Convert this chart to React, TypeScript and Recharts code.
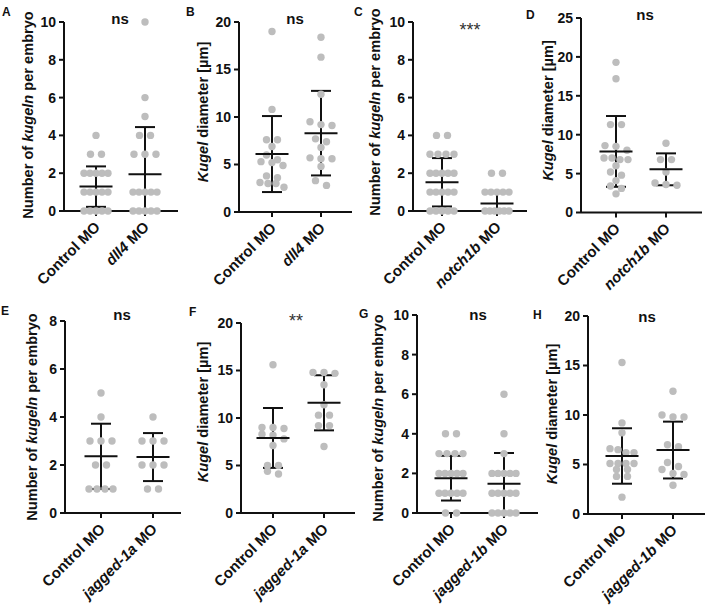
import React from 'react';
import { ScatterChart, Scatter, XAxis, YAxis, ErrorBar } from 'recharts';

const FONT = '"Liberation Sans", Arial, Helvetica, sans-serif';
const DOT = '#bdbdbd';
const INK = '#111';

// ---- data ----
const groupsA = ['Control MO', 'dll4 MO'];
const kugelnCtrlA = [4, 3, 3, 2, 2, 2, 2, 2, 1, 1, 1, 1, 1, 0, 0, 0, 0, 0];
const kugelnDll4A = [10, 6, 5, 4, 4, 3, 3, 3, 1, 1, 1, 1, 1, 0, 0, 0, 0, 0];
const meansA = [1.29, 1.94];
const sdsA = [1.07, 2.5];

const groupsB = ['Control MO', 'dll4 MO'];
const diamCtrlB = [19.0, 10.8, 7.6, 7.6, 6.9, 6.0, 5.5, 5.3, 5.2, 4.9, 3.8, 3.6, 3.1, 3.0, 3.0, 2.6];
const diamDll4B = [18.4, 16.3, 12.4, 9.5, 9.2, 9.1, 7.7, 7.4, 6.8, 5.7, 5.6, 5.6, 4.8, 3.3, 2.8];
const meansB = [6.1, 8.3];
const sdsB = [4.0, 4.45];

const groupsC = ['Control MO', 'notch1b MO'];
const kugelnCtrlC = [4, 4, 3, 3, 3, 3, 2, 2, 2, 2, 2, 1, 1, 1, 1, 1, 0, 0, 0, 0, 0];
const kugelnNotchC = [2, 2, 1, 1, 1, 1, 1, 0, 0, 0, 0, 0, 0];
const meansC = [1.52, 0.4];
const sdsC = [1.28, 0.64];

const groupsD = ['Control MO', 'notch1b MO'];
const diamCtrlD = [19.3, 17.2, 11.3, 11.3, 8.6, 8.5, 8.0, 7.0, 7.0, 6.8, 6.8, 6.0, 5.2, 4.8, 4.1, 3.4, 3.1, 2.4];
const diamNotchD = [8.9, 6.8, 6.8, 5.2, 3.8, 3.6, 3.5];
const meansD = [7.85, 5.55];
const sdsD = [4.55, 2.05];

const groupsE = ['Control MO', 'jagged-1a MO'];
const kugelnCtrlE = [5, 4, 3, 3, 3, 2, 2, 1, 1, 1, 1];
const kugelnJagE = [4, 3, 3, 3, 2, 2, 2, 1, 1];
const meansE = [2.36, 2.33];
const sdsE = [1.36, 1.0];

const groupsF = ['Control MO', 'jagged-1a MO'];
const diamCtrlF = [15.6, 9.0, 8.9, 9.0, 8.3, 8.2, 7.8, 7.1, 5.0, 5.0, 4.4, 4.1];
const diamJagF = [14.8, 14.7, 14.8, 13.5, 11.4, 10.3, 10.3, 9.2, 9.2, 7.0];
const meansF = [7.9, 11.6];
const sdsF = [3.15, 2.9];

const groupsG = ['Control MO', 'jagged-1b MO'];
const kugelnCtrlG = [4, 4, 3, 3, 3, 3, 2, 2, 2, 2, 2, 1, 1, 1, 1, 1, 0, 0];
const kugelnJagG = [6, 4, 3, 2, 2, 2, 2, 2, 1, 1, 1, 1, 1, 0, 0, 0, 0, 0];
const meansG = [1.76, 1.48];
const sdsG = [1.13, 1.55];

const groupsH = ['Control MO', 'jagged-1b MO'];
const diamCtrlH = [15.3, 9.2, 8.2, 6.6, 6.5, 6.2, 6.2, 5.1, 5.1, 5.1, 5.1, 4.5, 4.5, 3.8, 3.8, 1.7];
const diamJagH = [12.4, 10.0, 9.8, 9.8, 7.0, 6.8, 5.2, 4.8, 4.5, 4.1, 4.0, 2.9];
const meansH = [5.86, 6.46];
const sdsH = [2.8, 2.87];

const ticks10 = [0, 2, 4, 6, 8, 10];
const ticks8 = [0, 2, 4, 6, 8];
const ticks20 = [0, 5, 10, 15, 20];
const ticks25 = [0, 5, 10, 15, 20, 25];

type Part = { t: string; i?: boolean };
const titleCount: Part[] = [{ t: 'Number of ' }, { t: 'kugeln', i: true }, { t: ' per embryo' }];
const titleDiam: Part[] = [{ t: 'Kugel', i: true }, { t: ' diameter [µm]' }];

// page geometry of each panel (pixels)
type Box = {
  axisX: number; top: number; zero: number; right: number; cats: number[];
  title: number[]; letter: number[]; sig: number[];
};

type PanelDef = {
  letter: string; sig: string; groups: string[]; values: number[][];
  means: number[]; sds: number[]; yMax: number; yTicks: number[]; title: Part[]; box: Box;
};

function splitName(name: string): Part[] {
  if (name.startsWith('Control')) return [{ t: name }];
  const k = name.lastIndexOf(' ');
  return [{ t: name.slice(0, k), i: true }, { t: name.slice(k) }];
}

// symmetric beeswarm: values that sit within a dot of each other share a row
function swarm(values: number[], group: number, pxPerUnit: number, catPx: number) {
  const sorted = [...values].sort((a, b) => b - a);
  const rows: number[][] = [];
  sorted.forEach((v) => {
    const last = rows[rows.length - 1];
    if (last && Math.abs(last[0] - v) * pxPerUnit < 5) last.push(v);
    else rows.push([v]);
  });
  const pts: { x: number; y: number }[] = [];
  rows.forEach((row) => {
    const k = row.length;
    const step = k > 1 ? Math.min(11, 24 / (k - 1)) : 0;
    row.forEach((v, i) => pts.push({ x: group + ((i - (k - 1) / 2) * step) / catPx, y: v }));
  });
  return pts;
}

const XTick = (props: any) => {
  const { x, y, payload, groups } = props;
  const name = groups[payload.value] ?? '';
  const tx = x + 5;
  const ty = y + 10;
  return (
    <text x={tx} y={ty} transform={`rotate(-45, ${tx}, ${ty})`} textAnchor="end"
      fontFamily={FONT} fontSize={15} fontWeight="bold" fill={INK}>
      {splitName(name).map((p, i) => (
        <tspan key={i} fontStyle={p.i ? 'italic' : 'normal'}>{p.t}</tspan>
      ))}
    </text>
  );
};

function Panel({ def }: { def: PanelDef }) {
  const b = def.box;
  const left = b.axisX - 64;
  const topPad = 24;
  const chartTop = b.top - topPad;
  const xAxisH = 95;
  const width = b.right - left + 4;
  const height = b.zero - chartTop + xAxisH;
  const unit = b.cats[1] - b.cats[0];
  const domain = [(b.axisX - b.cats[0]) / unit, (b.right - b.cats[0]) / unit];
  const ppu = (b.zero - b.top) / def.yMax;

  const pts0 = swarm(def.values[0], 0, ppu, unit);
  const pts1 = swarm(def.values[1], 1, ppu, unit);
  const stats = def.means.map((m, i) => ({ x: i, y: m, err: [Math.min(def.sds[i], m), def.sds[i]] }));

  const rx = (px: number) => px - left;
  const ry = (py: number) => py - chartTop;
  const tx = rx(b.title[0]);
  const ty = ry(b.title[1]);
  const isNs = def.sig === 'ns';

  return (
    <div style={{ position: 'absolute', left, top: chartTop, width, height }}>
      <ScatterChart width={width} height={height} margin={{ top: topPad, right: 4, bottom: 0, left: 0 }}>
        <XAxis dataKey="x" type="number" domain={domain} ticks={[0, 1]} height={xAxisH}
          tickSize={5} axisLine={{ stroke: INK, strokeWidth: 2 }} tickLine={{ stroke: INK, strokeWidth: 2 }}
          tick={<XTick groups={def.groups} />} interval={0} />
        <YAxis dataKey="y" type="number" domain={[0, def.yMax]} ticks={def.yTicks} width={64}
          tickSize={5} tickMargin={3} interval={0}
          axisLine={{ stroke: INK, strokeWidth: 2 }} tickLine={{ stroke: INK, strokeWidth: 2 }}
          tick={{ fontSize: 14, fontWeight: 'bold', fill: INK, fontFamily: FONT }} />
        <Scatter data={pts0} isAnimationActive={false}
          shape={(p: any) => <circle cx={p.cx} cy={p.cy} r={3.7} fill={DOT} />} />
        <Scatter data={pts1} isAnimationActive={false}
          shape={(p: any) => <circle cx={p.cx} cy={p.cy} r={3.7} fill={DOT} />} />
        <Scatter data={stats} isAnimationActive={false}
          shape={(p: any) => <line x1={p.cx - 16.5} x2={p.cx + 16.5} y1={p.cy} y2={p.cy} stroke={INK} strokeWidth={2} />}>
          <ErrorBar dataKey="err" direction="y" width={10} stroke={INK} strokeWidth={2} />
        </Scatter>
        <text x={tx} y={ty} transform={`rotate(-90, ${tx}, ${ty})`} textAnchor="middle" dominantBaseline="central"
          fontFamily={FONT} fontSize={14.6} fontWeight="bold" fill={INK}>
          {def.title.map((p, i) => (
            <tspan key={i} fontStyle={p.i ? 'italic' : 'normal'}>{p.t}</tspan>
          ))}
        </text>
        <text x={rx(b.letter[0])} y={ry(b.letter[1])} fontFamily={FONT} fontSize={12} fontWeight="bold" fill={INK}>
          {def.letter}
        </text>
        <text x={rx(b.sig[0])} y={ry(b.sig[1])} textAnchor="middle" fontFamily={FONT}
          fontSize={isNs ? 15 : 18} fontWeight={isNs ? 'bold' : 'normal'} fill={isNs ? INK : '#333'}>
          {def.sig}
        </text>
      </ScatterChart>
    </div>
  );
}

const panels: PanelDef[] = [
  { letter: 'A', sig: 'ns', groups: groupsA, values: [kugelnCtrlA, kugelnDll4A], means: meansA, sds: sdsA,
    yMax: 10, yTicks: ticks10, title: titleCount,
    box: { axisX: 64, top: 22, zero: 211, right: 178, cats: [96, 145], title: [28, 115], letter: [2, 16], sig: [120, 24] } },
  { letter: 'B', sig: 'ns', groups: groupsB, values: [diamCtrlB, diamDll4B], means: meansB, sds: sdsB,
    yMax: 20, yTicks: ticks20, title: titleDiam,
    box: { axisX: 239, top: 22, zero: 212, right: 352, cats: [272, 321], title: [203, 112], letter: [186, 16], sig: [295, 24] } },
  { letter: 'C', sig: '***', groups: groupsC, values: [kugelnCtrlC, kugelnNotchC], means: meansC, sds: sdsC,
    yMax: 10, yTicks: ticks10, title: titleCount,
    box: { axisX: 413, top: 22, zero: 211, right: 527, cats: [442, 497], title: [375, 112], letter: [354, 16], sig: [470, 36] } },
  { letter: 'D', sig: 'ns', groups: groupsD, values: [diamCtrlD, diamNotchD], means: meansD, sds: sdsD,
    yMax: 25, yTicks: ticks25, title: titleDiam,
    box: { axisX: 581, top: 17.5, zero: 212, right: 702, cats: [616, 666], title: [548, 110], letter: [526, 18], sig: [645, 19] } },
  { letter: 'E', sig: 'ns', groups: groupsE, values: [kugelnCtrlE, kugelnJagE], means: meansE, sds: sdsE,
    yMax: 8, yTicks: ticks8, title: titleCount,
    box: { axisX: 65, top: 321, zero: 513, right: 181, cats: [101, 153], title: [32, 417], letter: [1, 315], sig: [122, 320] } },
  { letter: 'F', sig: '**', groups: groupsF, values: [diamCtrlF, diamJagF], means: meansF, sds: sdsF,
    yMax: 20, yTicks: ticks20, title: titleDiam,
    box: { axisX: 241, top: 323, zero: 513, right: 355, cats: [273, 324], title: [203, 412], letter: [189, 316], sig: [296, 327] } },
  { letter: 'G', sig: 'ns', groups: groupsG, values: [kugelnCtrlG, kugelnJagG], means: meansG, sds: sdsG,
    yMax: 10, yTicks: ticks10, title: titleCount,
    box: { axisX: 417, top: 315, zero: 513, right: 538, cats: [451, 504], title: [378, 418], letter: [359, 318], sig: [478, 320] } },
  { letter: 'H', sig: 'ns', groups: groupsH, values: [diamCtrlH, diamJagH], means: meansH, sds: sdsH,
    yMax: 20, yTicks: ticks20, title: titleDiam,
    box: { axisX: 588, top: 316, zero: 514, right: 705, cats: [622, 673], title: [552, 414], letter: [533, 319], sig: [647, 322] } },
];

export default function App() {
  return (
    <div style={{ position: 'absolute', left: 0, top: 0, width: 708, height: 609, background: '#fff', overflow: 'hidden' }}>
      {panels.map((p) => (
        <Panel key={p.letter} def={p} />
      ))}
    </div>
  );
}
